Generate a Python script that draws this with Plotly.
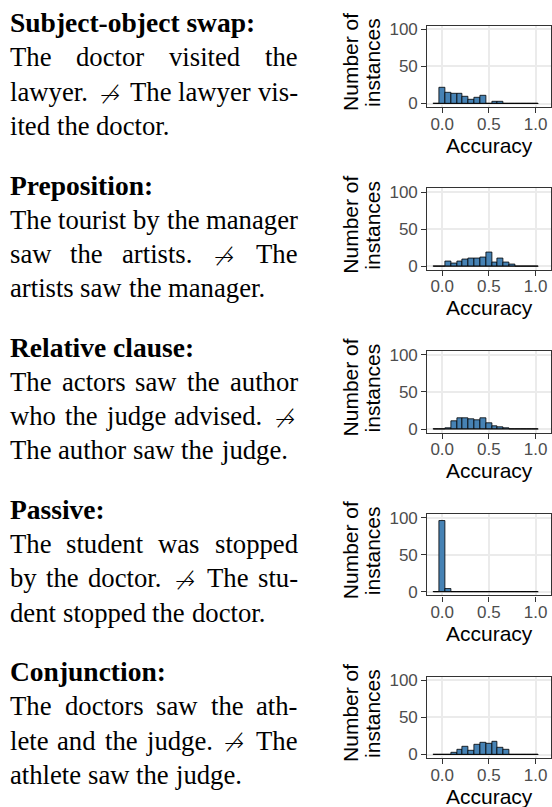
import plotly.graph_objects as go

# ---------------- data ----------------
bin_centers = [-0.0625, 0.0, 0.0625, 0.125, 0.1875, 0.25, 0.3125, 0.375, 0.4375,
               0.5, 0.5625, 0.625, 0.6875, 0.75, 0.8125, 0.875, 0.9375, 1.0]
bin_width = 0.0625

counts_swap = [0, 22, 15, 13, 13, 9, 5, 8, 10, 0, 3, 2, 0, 0, 0, 0, 0, 0]
counts_prep = [0, 0, 6, 4, 6, 9, 11, 11, 12, 18, 5, 11, 5, 2, 0, 0, 0, 0]
counts_relcl = [0, 0, 1, 11, 15, 15, 13, 12, 15, 8, 4, 2, 1, 0, 0, 0, 0, 0]
counts_passive = [0, 96, 4, 0, 0, 0, 0, 0, 0, 0, 0, 0, 0, 0, 0, 0, 0, 0]
counts_conj = [0, 0, 0, 3, 6, 10, 5, 13, 16, 14, 17, 9, 7, 0, 0, 0, 0, 0]

all_counts = [counts_swap, counts_prep, counts_relcl, counts_passive, counts_conj]

x_tick_vals = [0.0, 0.5, 1.0]
x_tick_text = ["0.0", "0.5", "1.0"]
y_tick_vals = [0, 50, 100]
y_tick_text = ["0", "50", "100"]

headers = ["Subject-object swap:", "Preposition:", "Relative clause:", "Passive:", "Conjunction:"]
ARROW = "\u219b"
body_lines = [
    [["The", "doctor", "visited", "the"],
     ["lawyer.", ARROW, "The", "lawyer", "vis-"],
     ["ited", "the", "doctor."]],
    [["The", "tourist", "by", "the", "manager"],
     ["saw", "the", "artists.", ARROW, "The"],
     ["artists", "saw", "the", "manager."]],
    [["The", "actors", "saw", "the", "author"],
     ["who", "the", "judge", "advised.", ARROW],
     ["The", "author", "saw", "the", "judge."]],
    [["The", "student", "was", "stopped"],
     ["by", "the", "doctor.", ARROW, "The", "stu-"],
     ["dent", "stopped", "the", "doctor."]],
    [["The", "doctors", "saw", "the", "ath-"],
     ["lete", "and", "the", "judge.", ARROW, "The"],
     ["athlete", "saw", "the", "judge."]],
]

# ---------------- layout constants ----------------
W, H = 552, 807
PANEL_LEFT, PANEL_RIGHT = 427.3, 550.5
PANEL_TOP0, PANEL_STEP, PANEL_H = 25.7, 162.75, 81.5
TEXT_BASE0, TEXT_STEP, LINE_STEP = 30.7, 162.2, 34.3
TEXT_X0, TEXT_X1 = 10.0, 298.0
SERIF = "Liberation Serif"
SANS = "Liberation Sans"
BODY_SIZE = 26.7
HEAD_SIZE = 27.5
ARROW_SIZE = 24
X_RANGE = [-0.16, 1.16]
Y_RANGE = [-5, 105]
Y_FIX = -1.5

# Times-Roman advance widths (1/1000 em) for justification
TW = dict(zip("abcdefghijklmnopqrstuvwxyz",
              [444, 500, 444, 500, 444, 333, 500, 500, 278, 278, 500, 278, 778,
               500, 500, 500, 500, 333, 389, 278, 500, 500, 722, 500, 500, 444]))
TW.update({"T": 611, ".": 250, "-": 333, ":": 278, " ": 250})
ARROW_W = 1000


def word_w(w, size):
    if w == ARROW:
        return ARROW_W * size / 1000
    return sum(TW.get(c, 500) for c in w) * size / 1000


def px_x(x):
    return x / W


def px_y(y):
    return 1 - y / H


def text_y(baseline, size):
    return px_y(baseline - 0.34 * size - Y_FIX)


fig = go.Figure()
annotations = []
layout_axes = {}

for i, counts in enumerate(all_counts):
    n = i + 1
    xa = "x" if n == 1 else f"x{n}"
    ya = "y" if n == 1 else f"y{n}"
    top = PANEL_TOP0 + i * PANEL_STEP
    bottom = top + PANEL_H

    fig.add_trace(go.Bar(
        x=bin_centers, y=counts, width=bin_width,
        marker=dict(color="#4682B4", line=dict(color="black", width=0.8)),
        xaxis=xa, yaxis=ya, showlegend=False, hoverinfo="x+y",
    ))
    lo = bin_centers[0] - bin_width / 2
    hi = bin_centers[-1] + bin_width / 2
    fig.add_trace(go.Scatter(
        x=[lo, hi], y=[0, 0], mode="lines",
        line=dict(color="black", width=0.8),
        xaxis=xa, yaxis=ya, showlegend=False, hoverinfo="skip",
    ))

    common = dict(
        showline=True, linecolor="#333333", linewidth=1.2, mirror=True,
        showgrid=True, gridcolor="#EBEBEB", gridwidth=1.6,
        zeroline=False, ticks="outside", ticklen=5, tickwidth=1.2,
        tickcolor="#333333",
        tickfont=dict(family=SANS, size=17, color="#4D4D4D"),
        fixedrange=True,
    )
    layout_axes["xaxis" if n == 1 else f"xaxis{n}"] = dict(
        common, domain=[px_x(PANEL_LEFT), px_x(PANEL_RIGHT)], anchor=ya,
        range=X_RANGE, tickvals=x_tick_vals, ticktext=x_tick_text,
        ticklabelstandoff=-4,
    )
    layout_axes["yaxis" if n == 1 else f"yaxis{n}"] = dict(
        common, domain=[px_y(bottom), px_y(top)], anchor=xa,
        range=Y_RANGE, tickvals=y_tick_vals, ticktext=y_tick_text,
    )

    # axis titles
    annotations.append(dict(
        text="Accuracy", xref="paper", yref="paper",
        x=px_x(489), y=px_y(bottom + 38),
        xanchor="center", yanchor="middle", showarrow=False,
        font=dict(family=SANS, size=21, color="black"),
    ))
    cy = (top + bottom) / 2 - 4
    for txt, cx in (("Number of", 350.5), ("instances", 372.5)):
        annotations.append(dict(
            text=txt, xref="paper", yref="paper",
            x=px_x(cx), y=px_y(cy), xanchor="center", yanchor="middle",
            textangle=-90, showarrow=False,
            font=dict(family=SANS, size=21, color="black"),
        ))

    # left-hand text
    base = TEXT_BASE0 + i * TEXT_STEP
    annotations.append(dict(
        text=f"<b>{headers[i]}</b>", xref="paper", yref="paper",
        x=px_x(TEXT_X0 - 2), y=text_y(base, HEAD_SIZE),
        xanchor="left", yanchor="middle", showarrow=False,
        font=dict(family=SERIF, size=HEAD_SIZE, color="black"),
    ))
    nlines = len(body_lines[i])
    for j, words in enumerate(body_lines[i]):
        bl = base + LINE_STEP * (j + 1)
        widths = [word_w(w, BODY_SIZE) for w in words]
        if j < nlines - 1 and len(words) > 1:
            gap = (TEXT_X1 - TEXT_X0 - sum(widths)) / (len(words) - 1)
        else:
            gap = 250 * BODY_SIZE / 1000
        x = TEXT_X0
        for w, ww in zip(words, widths):
            if w == ARROW:
                annotations.append(dict(
                    text=w, xref="paper", yref="paper",
                    x=px_x(x + ww / 2), y=text_y(bl + 2, ARROW_SIZE),
                    xanchor="center", yanchor="middle", showarrow=False,
                    font=dict(family="DejaVu Sans", size=ARROW_SIZE,
                              color="black", weight=200),
                ))
            else:
                annotations.append(dict(
                    text=w, xref="paper", yref="paper",
                    x=px_x(x - 2), y=text_y(bl, BODY_SIZE),
                    xanchor="left", yanchor="middle", showarrow=False,
                    font=dict(family=SERIF, size=BODY_SIZE, color="black"),
                ))
            x += ww + gap

fig.update_layout(
    width=W, height=H,
    margin=dict(l=0, r=0, t=0, b=0, autoexpand=False),
    paper_bgcolor="white", plot_bgcolor="white",
    bargap=0, annotations=annotations, **layout_axes,
)

fig.write_html(
    "out.html",
    config={"displayModeBar": False},
    post_script="document.body.style.margin='0px';document.body.style.overflow='hidden';",
)
